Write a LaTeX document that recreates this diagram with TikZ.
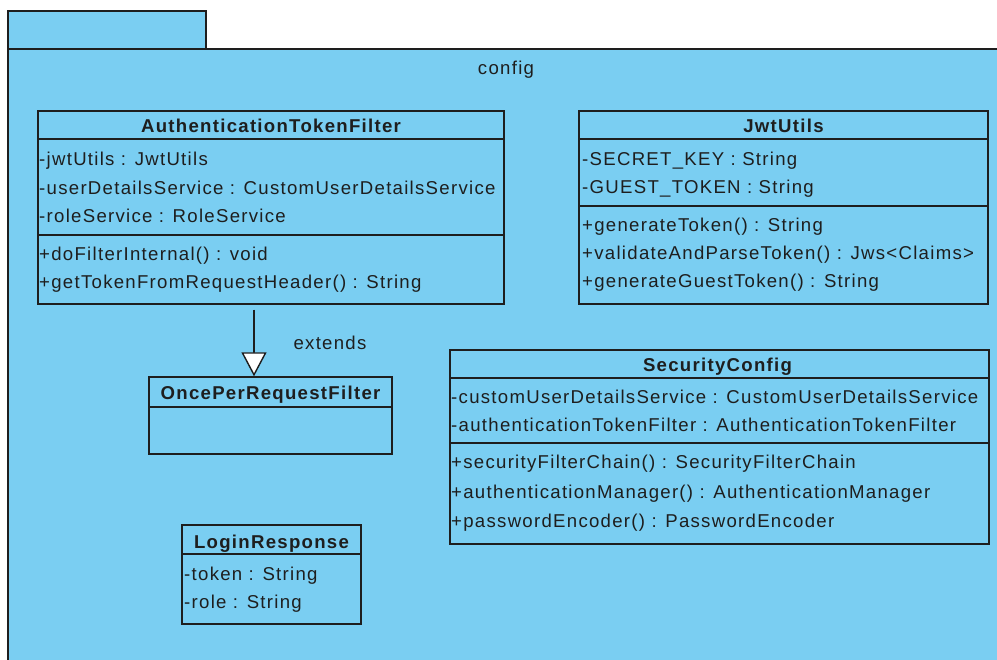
\documentclass[tikz,border=0pt]{standalone}
\usepackage{fontspec}
\setmainfont{Liberation Sans}[LetterSpace=6.9]
\usetikzlibrary{arrows.meta}
\definecolor{pkgfill}{RGB}{122,206,242}
\definecolor{ink}{RGB}{30,30,30}

\tikzset{
  pkg/.style={draw=ink, line width=1.4pt, fill=pkgfill},
  classbox/.style={draw=ink, line width=1.4pt, fill=pkgfill, inner sep=0pt},
  divider/.style={draw=ink, line width=1.4pt},
  title/.style={inner sep=0pt, anchor=base, font=\fontsize{18.6}{22}\selectfont\bfseries, text=ink},
  member/.style={inner sep=0pt, anchor=base west, font=\fontsize{18.6}{22}\selectfont, text=ink},
  label/.style={inner sep=0pt, anchor=base, font=\fontsize{18.6}{22}\selectfont, text=ink},
  generalization/.style={draw=ink, line width=1.4pt,
    -{Triangle[length=24pt, width=25pt, fill=white, line width=1.4pt]}}
}

\begin{document}
\begin{tikzpicture}[x=1pt, y=-1pt]
\useasboundingbox (0,0) rectangle (997,660);
\clip (0,0) rectangle (997,660);
\fill[white] (0,0) rectangle (997,660);

% package "config"
\draw[pkg] (8,11) rectangle (206,49);
\draw[pkg] (8,49) rectangle (1012,680);
\node[label] (pkgname) at (506,75) {config};

% AuthenticationTokenFilter
\node[classbox, minimum width=466pt, minimum height=193pt] (atf) at (271,207.5) {};
\draw[divider] (atf.west |- 0,139) -- (atf.east |- 0,139);
\draw[divider] (atf.west |- 0,235) -- (atf.east |- 0,235);
\node[title] at (271,133) {AuthenticationTokenFilter};
\node[member] at (39,166) {-jwtUtils : JwtUtils};
\node[member] at (39,195) {-userDetailsService : CustomUserDetailsService};
\node[member] at (39,223) {-roleService : RoleService};
\node[member] at (39,261) {+doFilterInternal() : void};
\node[member] at (39,289) {+getTokenFromRequestHeader() : String};

% JwtUtils
\node[classbox, minimum width=409pt, minimum height=193pt] (jwt) at (783.5,207.5) {};
\draw[divider] (jwt.west |- 0,139) -- (jwt.east |- 0,139);
\draw[divider] (jwt.west |- 0,206) -- (jwt.east |- 0,206);
\node[title] at (783.5,133) {JwtUtils};
\node[member] at (582,166) {-SECRET\_KEY : String};
\node[member] at (582,194) {-GUEST\_TOKEN : String};
\node[member] at (582,232) {+generateToken() : String};
\node[member] at (582,260) {+validateAndParseToken() : Jws<Claims>};
\node[member] at (582,288) {+generateGuestToken() : String};

% OncePerRequestFilter
\node[classbox, minimum width=243pt, minimum height=77pt] (opr) at (270.5,415.5) {};
\draw[divider] (opr.west |- 0,407) -- (opr.east |- 0,407);
\node[title] at (270.5,400) {OncePerRequestFilter};

% generalization
\coordinate (gx) at (254,0);
\draw[generalization, shorten <=5pt] (atf.south -| gx) -- (opr.north -| gx);
\node[label] (ext) at (330,350) {extends};

% SecurityConfig
\node[classbox, minimum width=539pt, minimum height=194pt] (sec) at (719.5,447) {};
\draw[divider] (sec.west |- 0,378) -- (sec.east |- 0,378);
\draw[divider] (sec.west |- 0,443) -- (sec.east |- 0,443);
\node[title] at (717.5,372) {SecurityConfig};
\node[member] at (451,404) {-customUserDetailsService : CustomUserDetailsService};
\node[member] at (451,432) {-authenticationTokenFilter : AuthenticationTokenFilter};
\node[member] at (451,469) {+securityFilterChain() : SecurityFilterChain};
\node[member] at (451,498) {+authenticationManager() : AuthenticationManager};
\node[member] at (451,527) {+passwordEncoder() : PasswordEncoder};

% LoginResponse
\node[classbox, minimum width=179pt, minimum height=99pt] (lr) at (271.5,574.5) {};
\draw[divider] (lr.west |- 0,554) -- (lr.east |- 0,554);
\node[title] at (271.5,548) {LoginResponse};
\node[member] at (184,580) {-token : String};
\node[member] at (184,608) {-role : String};
\end{tikzpicture}
\end{document}
